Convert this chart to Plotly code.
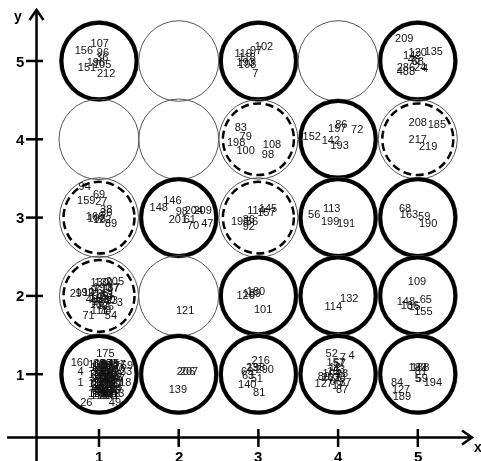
import plotly.graph_objects as go

# ---------------- data ----------------
grid_x = [1, 2, 3, 4, 5]
grid_y = [1, 2, 3, 4, 5]
x_tick_labels = ["1", "2", "3", "4", "5"]
y_tick_labels = ["1", "2", "3", "4", "5"]

# ring kind for each cell, columns x=1..5, keyed by row y
ring_rows = {
    5: ["thick", "thin", "thick", "thin", "thick"],
    4: ["thin", "thin", "dashed", "thick", "dashed"],
    3: ["dashed", "thick", "dashed", "thick", "thick"],
    2: ["dashed", "thin", "thick", "thick", "thick"],
    1: ["thick", "thick", "thick", "thick", "thick"],
}

# labelled points (text, x, y), grouped by grid row
row5_points = [
    ("107", 1.01, 5.22), ("156", 0.81, 5.13), ("96", 1.05, 5.10), ("36", 1.04, 5.04),
    ("196", 0.96, 4.97), ("105", 1.04, 4.95), ("151", 0.85, 4.91), ("212", 1.09, 4.83),
    ("102", 3.07, 5.18), ("97", 2.97, 5.13), ("119", 2.81, 5.09), ("118", 2.86, 5.03),
    ("193", 2.84, 4.97), ("198", 2.86, 4.95), ("7", 2.96, 4.83),
    ("209", 4.83, 5.28), ("120", 5.00, 5.10), ("135", 5.20, 5.11), ("142", 4.93, 5.06),
    ("46", 4.95, 5.01), ("68", 5.00, 4.99), ("286", 4.85, 4.91), ("24", 5.03, 4.91),
    ("488", 4.85, 4.86), ("4", 5.09, 4.90),
]
row4_points = [
    ("83", 2.78, 4.14), ("79", 2.84, 4.03), ("198", 2.72, 3.95), ("100", 2.84, 3.85),
    ("108", 3.17, 3.93), ("98", 3.12, 3.80),
    ("86", 4.04, 4.18), ("197", 3.99, 4.13), ("72", 4.24, 4.11), ("152", 3.67, 4.03),
    ("142", 3.91, 3.98), ("193", 4.02, 3.91),
    ("208", 5.00, 4.20), ("185", 5.24, 4.18), ("217", 5.00, 3.99), ("219", 5.13, 3.90),
]
row3_points = [
    ("94", 0.82, 3.39), ("69", 1.00, 3.29), ("159", 0.84, 3.21), ("27", 1.03, 3.19),
    ("38", 1.09, 3.10), ("36", 1.09, 3.05), ("166", 0.95, 3.01), ("198", 0.97, 2.98),
    ("122", 1.04, 2.96), ("89", 1.15, 2.92),
    ("146", 1.92, 3.21), ("148", 1.75, 3.12), ("98", 2.04, 3.07), ("204", 2.19, 3.08),
    ("209", 2.30, 3.08), ("201", 1.99, 2.96), ("61", 2.14, 2.96), ("70", 2.18, 2.89),
    ("47", 2.36, 2.92),
    ("114", 2.97, 3.08), ("145", 3.12, 3.11), ("157", 3.10, 3.05), ("195", 2.77, 2.94),
    ("56", 2.92, 2.94), ("36", 2.88, 2.96), ("92", 2.88, 2.88),
    ("56", 3.70, 3.03), ("113", 3.92, 3.11), ("199", 3.90, 2.94), ("191", 4.10, 2.92),
    ("68", 4.84, 3.11), ("163", 4.89, 3.03), ("59", 5.08, 3.01), ("190", 5.13, 2.92),
]
row2_points = [
    ("130", 1.01, 2.16), ("139", 1.06, 2.16), ("205", 1.20, 2.18), ("29", 0.71, 2.02),
    ("192", 0.82, 2.03), ("10", 0.87, 2.04), ("96", 0.97, 2.06), ("187", 1.14, 2.08),
    ("37", 1.18, 2.10), ("163", 1.06, 2.00), ("11", 0.95, 1.96), ("23", 1.16, 1.93),
    ("3", 1.26, 1.91), ("16", 0.96, 1.88), ("17", 1.05, 1.87), ("66", 1.11, 1.85),
    ("111", 1.00, 1.81), ("71", 0.87, 1.74), ("54", 1.15, 1.74), ("40", 0.91, 1.95),
    ("88", 1.09, 1.97), ("144", 1.02, 1.92), ("78", 1.08, 1.80),
    ("145", 1.00, 1.98), ("61", 1.12, 2.02), ("190", 1.04, 2.10), ("73", 0.99, 1.90),
    ("30", 1.13, 1.95),
    ("121", 2.08, 1.81),
    ("126", 2.84, 1.99), ("189", 2.92, 2.02), ("180", 2.97, 2.05), ("101", 3.06, 1.82),
    ("132", 4.14, 1.96), ("114", 3.94, 1.86),
    ("109", 4.99, 2.18), ("148", 4.85, 1.92), ("65", 5.10, 1.94), ("186", 4.90, 1.87),
    ("15", 4.96, 1.85), ("155", 5.07, 1.79),
]
row1_points = [
    ("175", 1.08, 1.25), ("160", 0.76, 1.14), ("7", 1.30, 1.12), ("59", 1.35, 1.10),
    ("4", 0.77, 1.02), ("33", 1.34, 1.02), ("1", 0.77, 0.89), ("18", 1.33, 0.89),
    ("26", 0.84, 0.63), ("49", 1.20, 0.63),
    ("88", 1.00, 1.13), ("167", 1.06, 1.13), ("203", 1.12, 1.13), ("45", 1.18, 1.13),
    ("112", 1.00, 1.07), ("9", 1.06, 1.07), ("76", 1.12, 1.07), ("150", 1.18, 1.07),
    ("31", 1.00, 1.01), ("174", 1.06, 1.01), ("118", 1.12, 1.01), ("62", 1.18, 1.01),
    ("141", 1.00, 0.95), ("13", 1.06, 0.95), ("99", 1.12, 0.95), ("205", 1.18, 0.95),
    ("22", 1.00, 0.89), ("136", 1.06, 0.89), ("58", 1.12, 0.89), ("171", 1.18, 0.89),
    ("184", 1.00, 0.83), ("47", 1.06, 0.83), ("125", 1.12, 0.83), ("6", 1.18, 0.83),
    ("93", 1.00, 0.77), ("210", 1.06, 0.77), ("34", 1.12, 0.77), ("157", 1.18, 0.77),
    ("119", 1.00, 0.72), ("75", 1.06, 0.72), ("200", 1.12, 0.72), ("41", 1.18, 0.72),
    ("168", 1.03, 1.10), ("53", 1.09, 1.10), ("177", 1.15, 1.10),
    ("82", 1.03, 1.04), ("191", 1.09, 1.04), ("64", 1.15, 1.04),
    ("128", 1.03, 0.98), ("39", 1.09, 0.98), ("143", 1.15, 0.98),
    ("70", 1.03, 0.92), ("162", 1.09, 0.92), ("95", 1.15, 0.92),
    ("181", 1.03, 0.86), ("27", 1.09, 0.86), ("116", 1.15, 0.86),
    ("55", 1.03, 0.80), ("149", 1.09, 0.80), ("211", 1.15, 0.80),
    ("133", 1.03, 0.74), ("60", 1.09, 0.74), ("172", 1.15, 0.74),
    ("103", 0.98, 1.11), ("44", 0.98, 1.05), ("186", 0.98, 0.99), ("21", 0.98, 0.93),
    ("159", 0.98, 0.87), ("67", 0.98, 0.81), ("130", 0.98, 0.75),
    ("8", 1.21, 1.11), ("170", 1.21, 1.05), ("35", 1.21, 0.99), ("147", 1.21, 0.93),
    ("90", 1.21, 0.87), ("24", 1.21, 0.81), ("113", 1.21, 0.75),
    ("206", 2.09, 1.02), ("207", 2.13, 1.02), ("139", 1.99, 0.80),
    ("216", 3.03, 1.16), ("23", 2.92, 1.08), ("290", 3.08, 1.05), ("198", 2.97, 1.07),
    ("69", 2.86, 1.03), ("63", 2.87, 0.98), ("51", 2.98, 0.93), ("140", 2.86, 0.86),
    ("81", 3.01, 0.76),
    ("52", 3.92, 1.26), ("7", 4.06, 1.21), ("4", 4.17, 1.23), ("157", 3.97, 1.14),
    ("57", 4.02, 1.13), ("12", 3.96, 1.08), ("43", 4.01, 1.05), ("15", 3.94, 1.03),
    ("104", 3.92, 1.00), ("28", 4.05, 1.00), ("80", 3.82, 0.96), ("38", 4.02, 0.95),
    ("202", 3.91, 0.95), ("66", 3.97, 0.90), ("37", 4.09, 0.89), ("127", 3.82, 0.87),
    ("17", 4.00, 0.85), ("87", 4.05, 0.80),
    ("183", 5.00, 1.08), ("188", 5.03, 1.07), ("81", 5.04, 1.02), ("5", 5.00, 0.94),
    ("59", 5.05, 0.94), ("194", 5.19, 0.89), ("84", 4.74, 0.89), ("127", 4.79, 0.80),
    ("189", 4.80, 0.70),
]

# ---------------- layout constants ----------------
X_RANGE = [-0.2422, 5.793]
Y_RANGE = [-0.1086, 5.779]
AXIS_X_AT = 0.216   # x value where the vertical axis stands
AXIS_Y_AT = 0.192   # y value where the horizontal axis lies
X_AXIS_START, X_AXIS_TIP = -0.154, 5.68
Y_AXIS_START, Y_AXIS_TIP = -0.3, 5.651

LABEL_FONT = dict(family="Liberation Sans, Arial, sans-serif", size=11, color="#111111")
TICK_FONT = dict(family="Liberation Sans, Arial, sans-serif", size=15, color="black", weight="bold")

fig = go.Figure()

all_points = row5_points + row4_points + row3_points + row2_points + row1_points
fig.add_trace(go.Scatter(
    x=[p[1] for p in all_points],
    y=[p[2] for p in all_points],
    text=[p[0] for p in all_points],
    mode="text",
    textposition="middle center",
    textfont=LABEL_FONT,
    opacity=0.995,
    hoverinfo="skip",
    showlegend=False,
))

shapes = []


def ring(cx, cy, rx, ry, color, width, dash="solid"):
    return dict(
        type="circle", xref="x", yref="y",
        xsizemode="pixel", ysizemode="pixel", xanchor=cx, yanchor=cy,
        x0=-rx, x1=rx, y0=-ry, y1=ry,
        line=dict(color=color, width=width, dash=dash),
        fillcolor="rgba(0,0,0,0)", layer="below",
    )


for gy, kinds in ring_rows.items():
    for gx, kind in zip(grid_x, kinds):
        if kind == "thin":
            shapes.append(ring(gx, gy, 40, 40.3, "#555555", 1))
        elif kind == "dashed":
            shapes.append(ring(gx, gy, 39.5, 39.8, "#555555", 1))
            shapes.append(ring(gx, gy, 35.5, 35.8, "black", 2.5, "8px,4.5px"))
        else:
            shapes.append(ring(gx, gy, 39.5, 40.3, "#777777", 1))
            shapes.append(ring(gx, gy, 37.5, 38.3, "black", 4))

# axis lines
shapes.append(dict(type="line", xref="x", yref="y", x0=X_AXIS_START, x1=X_AXIS_TIP,
                   y0=AXIS_Y_AT, y1=AXIS_Y_AT, line=dict(color="black", width=2.5)))
shapes.append(dict(type="line", xref="x", yref="y", x0=AXIS_X_AT, x1=AXIS_X_AT,
                   y0=Y_AXIS_START, y1=Y_AXIS_TIP, line=dict(color="black", width=2.5)))
# arrow heads (open chevrons, pixel sized)
shapes.append(dict(type="path", xref="x", yref="y", xsizemode="pixel", ysizemode="pixel",
                   xanchor=X_AXIS_TIP, yanchor=AXIS_Y_AT,
                   path="M -10 7 L 0 0 L -10 -7", line=dict(color="black", width=2.5)))
shapes.append(dict(type="path", xref="x", yref="y", xsizemode="pixel", ysizemode="pixel",
                   xanchor=AXIS_X_AT, yanchor=Y_AXIS_TIP,
                   path="M -7 -10 L 0 0 L 7 -10", line=dict(color="black", width=2.5)))
# tick marks crossing the axes
for tx in grid_x:
    shapes.append(dict(type="line", xref="x", yref="y", ysizemode="pixel",
                       x0=tx, x1=tx, yanchor=AXIS_Y_AT, y0=-9.5, y1=8.5,
                       line=dict(color="black", width=2.5)))
for ty in grid_y:
    shapes.append(dict(type="line", xref="x", yref="y", xsizemode="pixel",
                       y0=ty, y1=ty, xanchor=AXIS_X_AT, x0=-10.5, x1=6.5,
                       line=dict(color="black", width=2.5)))

annotations = []
for tx, lab in zip(grid_x, x_tick_labels):
    annotations.append(dict(x=tx, y=AXIS_Y_AT, xref="x", yref="y", text=lab,
                            showarrow=False, xanchor="center", yanchor="top",
                            yshift=-9, font=TICK_FONT))
for ty, lab in zip(grid_y, y_tick_labels):
    annotations.append(dict(x=AXIS_X_AT, y=ty, xref="x", yref="y", text=lab,
                            showarrow=False, xanchor="center", yanchor="middle",
                            xshift=-16.5, font=TICK_FONT))
annotations.append(dict(x=AXIS_X_AT, y=Y_AXIS_TIP, xref="x", yref="y", text="y",
                        showarrow=False, xanchor="center", yanchor="middle",
                        xshift=-19, yshift=-6, font=dict(TICK_FONT, size=14)))
annotations.append(dict(x=X_AXIS_TIP, y=AXIS_Y_AT, xref="x", yref="y", text="x",
                        showarrow=False, xanchor="center", yanchor="middle",
                        xshift=6, yshift=-10, font=dict(TICK_FONT, size=14)))

fig.update_layout(
    width=481, height=461,
    margin=dict(l=0, r=0, t=0, b=0),
    paper_bgcolor="white", plot_bgcolor="white",
    xaxis=dict(range=X_RANGE, visible=False, fixedrange=True),
    yaxis=dict(range=Y_RANGE, visible=False, fixedrange=True),
    shapes=shapes,
    annotations=annotations,
    showlegend=False,
)

fig.write_html("out.html", config={"displayModeBar": False},
               post_script="document.body.style.margin='0';")
